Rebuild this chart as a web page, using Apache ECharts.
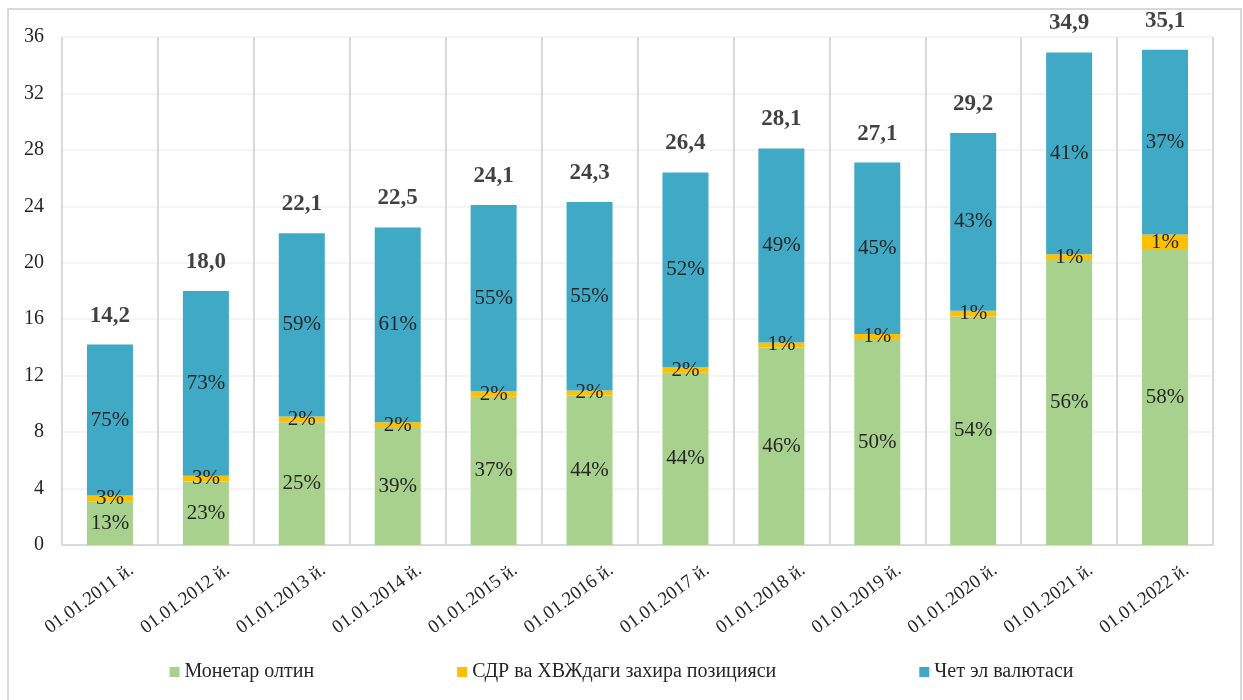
<!DOCTYPE html>
<html>
<head>
<meta charset="utf-8">
<script src="https://cdn.jsdelivr.net/npm/echarts@6/dist/echarts.min.js"></script>
<style>
html,body{margin:0;padding:0;background:#fff;}
#c{width:1243px;height:700px;}
</style>
</head>
<body>
<div id="c"></div>
<script>
var categories = ['01.01.2011 й.','01.01.2012 й.','01.01.2013 й.','01.01.2014 й.','01.01.2015 й.','01.01.2016 й.','01.01.2017 й.','01.01.2018 й.','01.01.2019 й.','01.01.2020 й.','01.01.2021 й.','01.01.2022 й.'];
var seriesNames = ['Монетар олтин','СДР ва ХВЖдаги захира позицияси','Чет эл валютаси'];
var goldValues = [3.1,4.5,8.7,8.3,10.5,10.6,12.2,14.0,14.6,16.2,20.2,20.9];
var sdrValues  = [0.4,0.4,0.4,0.4,0.4,0.35,0.4,0.35,0.35,0.4,0.4,1.1];
var fxValues   = [10.7,13.1,13.0,13.8,13.2,13.35,13.8,13.75,12.15,12.6,14.3,13.1];
var totalValues = [14.2,18.0,22.1,22.5,24.1,24.3,26.4,28.1,27.1,29.2,34.9,35.1];
var goldPct = ['13%','23%','25%','39%','37%','44%','44%','46%','50%','54%','56%','58%'];
var sdrPct  = ['3%','3%','2%','2%','2%','2%','2%','1%','1%','1%','1%','1%'];
var fxPct   = ['75%','73%','59%','61%','55%','55%','52%','49%','45%','43%','41%','37%'];
var yTicks = {min:0, max:36, interval:4};

var FONT = "'Liberation Serif','Times New Roman',serif";
var chart = echarts.init(document.getElementById('c'));
function pctLabel(arr){
  return {show:true, position:'inside', fontFamily:FONT, fontSize:21, color:'#262626',
          formatter:function(p){return arr[p.dataIndex];}};
}
chart.setOption({
  backgroundColor:'#ffffff',
  animation:false,
  graphic:[{type:'rect', shape:{x:8,y:9,width:1233,height:720}, style:{fill:'none',stroke:'#d9d9d9',lineWidth:2}, silent:true}],
  grid:{left:62,right:30,top:37,bottom:155},
  legend:{
    data:seriesNames, bottom:13, left:'center', itemWidth:10, itemHeight:10, itemGap:143,
    icon:'rect',
    textStyle:{fontFamily:FONT,fontSize:20,color:'#262626'}
  },
  xAxis:{
    type:'category', data:categories,
    axisLine:{show:true,lineStyle:{color:'#d9d9d9',width:2}},
    axisTick:{show:false},
    splitLine:{show:true,lineStyle:{color:'#d9d9d9',width:2}},
    axisLabel:{rotate:36, margin:39, interval:0, align:'center', verticalAlign:'middle',
      formatter:function(v){return '{t|'+v+'}{s|}';},
      rich:{t:{fontFamily:FONT, fontSize:19, color:'#262626'}, s:{width:51}}}
  },
  yAxis:{
    type:'value', min:yTicks.min, max:yTicks.max, interval:yTicks.interval,
    axisLine:{show:false}, axisTick:{show:false},
    splitLine:{lineStyle:{color:'#f0f0f0',width:1.5}},
    axisLabel:{margin:18, fontFamily:FONT, fontSize:20, color:'#262626'}
  },
  series:[
    {name:seriesNames[0], type:'bar', stack:'t', barWidth:46, data:goldValues,
     itemStyle:{color:'#A9D18E'}, label:pctLabel(goldPct)},
    {name:seriesNames[1], type:'bar', stack:'t', barWidth:46, data:sdrValues,
     itemStyle:{color:'#FFC000'}, label:pctLabel(sdrPct)},
    {name:seriesNames[2], type:'bar', stack:'t', barWidth:46, data:fxValues,
     itemStyle:{color:'#40A9C6'}, label:pctLabel(fxPct)},
    {name:'total', type:'scatter', data:totalValues, symbolSize:1,
     itemStyle:{color:'rgba(0,0,0,0)'}, z:10,
     label:{show:true, position:'top', distance:17, fontFamily:FONT, fontSize:23, fontWeight:'bold', color:'#111',
       formatter:function(p){return totalValues[p.dataIndex].toFixed(1).replace('.',',');}}}
  ]
});
</script>
</body>
</html>
